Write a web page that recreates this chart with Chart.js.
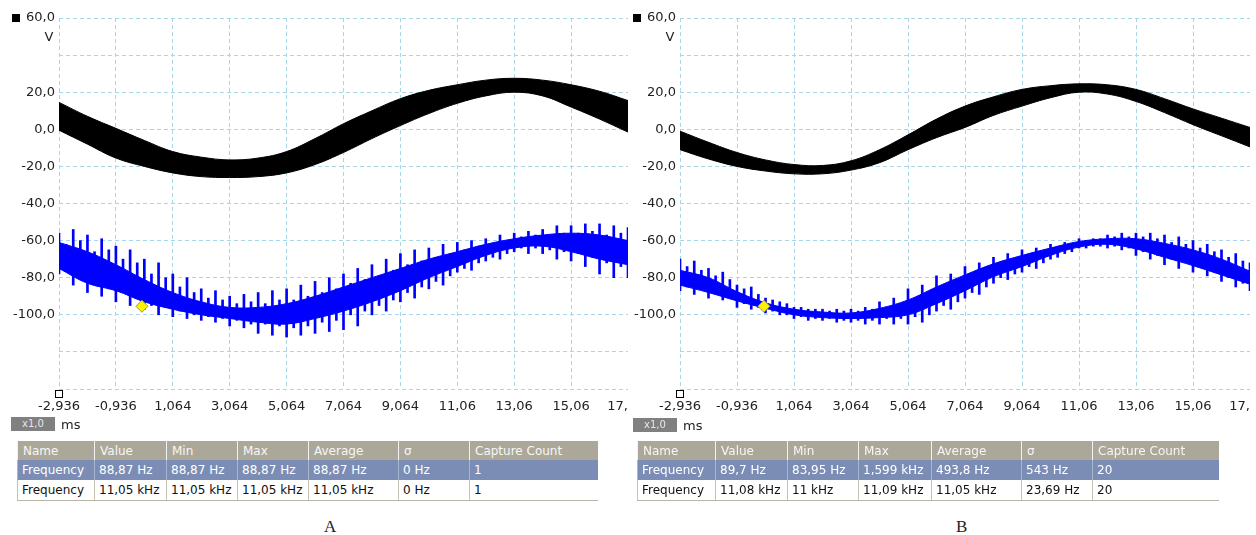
<!DOCTYPE html>
<html>
<head>
<meta charset="utf-8">
<script src="https://cdn.jsdelivr.net/npm/chart.js@4.4.1/dist/chart.umd.min.js"></script>
<style>
	body { margin: 0; background: #fff; }
	#page { position: relative; width: 1256px; height: 535px; overflow: hidden; font-family: "DejaVu Sans", sans-serif; }
	.panel { position: absolute; top: 0; height: 440px; }
	.zoombox { position: absolute; width: 44px; height: 14px; background: #808080; color: #e6e6e6; font-size: 10px; line-height: 14px; text-align: center; }
	.unit { position: absolute; font-size: 13px; color: #222; line-height: 14px; }
	.meas { position: absolute; border-collapse: collapse; table-layout: fixed; font-size: 12px; }
	.meas td { padding: 0 0 0 4px; white-space: nowrap; overflow: hidden; }
	.meas tr.hd td { background: #aca899; color: #f6f6f6; height: 19px; border-left: 1px solid #f2f2f2; padding-left: 5px; }
	.meas tr.sel td { background: #7b8db5; color: #fff; height: 20px; border-left: 1px solid #a9b6d0; }
	.meas tr.row td { background: #fff; color: #111; height: 20px; border-left: 1px solid #c4c0b2; border-bottom: 1px solid #b8b4a6; }
	.caption { position: absolute; top: 517px; font-family: "Liberation Serif", serif; font-size: 17px; color: #222; }
</style>
</head>
<body>
<div id="page">
	<div class="panel" id="wrapA" style="left:0px; width:628px;"><canvas id="scopeA"></canvas></div>
	<div class="panel" id="wrapB" style="left:621px; width:629px;"><canvas id="scopeB"></canvas></div>

	<div class="zoombox" style="left:11px; top:417px;">x1,0</div>
	<div class="unit" style="left:61px; top:418px;">ms</div>
	<div class="zoombox" style="left:633px; top:418px;">x1,0</div>
	<div class="unit" style="left:683px; top:419px;">ms</div>

	<table class="meas" id="tblA" style="left:17px; top:441px;"></table>
	<table class="meas" id="tblB" style="left:637px; top:441px;"></table>

	<div class="caption" style="left:324px;">A</div>
	<div class="caption" style="left:956px;">B</div>
</div>

<script>
// time axis (ms)
const xTickValues = [-2.936, -0.936, 1.064, 3.064, 5.064, 7.064, 9.064, 11.064, 13.064, 15.064, 17.064];
const xTickLabels = ['-2,936', '-0,936', '1,064', '3,064', '5,064', '7,064', '9,064', '11,06', '13,06', '15,06', '17,     '];

// coarse samples, 1 ms apart
const tCoarse = [-2.936, -1.936, -0.936, 0.064, 1.064, 2.064, 3.064, 4.064, 5.064, 6.064, 7.064,
	8.064, 9.064, 10.064, 11.064, 12.064, 13.064, 14.064, 15.064, 16.064, 17.064];

// fine samples for the ripple spikes, 0.25 ms apart
const T0 = -2.936;
const tFine = Array.from({ length: 81 }, (_, i) => Math.round((T0 + i * 0.25) * 1000) / 1000);

// --- panel A (V) ---
const blackTopA = [14.5, 7, 0.5, -6, -12, -15, -16.5, -15.5, -12, -5, 3, 10, 16.5, 21, 24, 26.5, 27.5, 26.5, 24, 20.5, 15.5];
const blackBotA = [-0.5, -8, -15.5, -20, -23.5, -25.5, -26, -25.5, -23.5, -19, -12.5, -5, 2, 8.5, 14, 18, 20, 18, 12, 5.5, -1.5];
const blueCoreA = [-69, -75, -81, -88, -93, -97, -99, -100, -100, -97, -92, -87, -81, -75, -70, -65, -61, -60, -61, -63, -67];
const fuzzHiA = [-61, -66, -73, -81, -88, -93, -96, -96, -94, -90, -85, -80, -75, -70, -66, -62, -59, -57, -56, -57, -60];
const fuzzLoA = [-75, -83, -87, -93, -97, -100, -102, -104, -105, -102, -98, -93, -87, -80, -74, -68, -64, -63, -66, -70, -73];
const spikeHiA = [-56, -62, -54, -60, -57, -66, -59, -65, -63, -70, -65, -72, -70, -78, -72, -80,
	-78, -85, -80, -88, -86, -91, -87, -92, -90, -94, -89, -93, -88, -94, -87, -92,
	-86, -92, -84, -90, -82, -88, -80, -86, -78, -83, -75, -81, -73, -79, -70, -76,
	-67, -73, -65, -71, -64, -69, -62, -67, -61, -65, -60, -63, -59, -62, -57, -60,
	-56, -58, -55, -57, -54, -57, -52, -56, -52, -56, -51, -55, -51, -57, -52, -56, -53];
const spikeLoA = [-78, -76, -84, -80, -88, -83, -90, -86, -93, -88, -95, -90, -97, -95, -100, -96,
	-101, -98, -102, -100, -103, -101, -104, -102, -106, -103, -107, -105, -110, -105, -111, -106,
	-112, -107, -111, -106, -110, -104, -109, -103, -108, -100, -106, -98, -100, -95, -98, -92,
	-93, -88, -91, -85, -86, -82, -84, -79, -77, -75, -76, -72, -71, -69, -70, -67,
	-66, -64, -67, -64, -67, -65, -70, -66, -71, -67, -74, -69, -78, -72, -80, -74, -80];
const markerA = { x: -0.02, y: -95.4 };

// --- panel B (V) ---
const blackTopB = [-1, -7, -12.5, -16.5, -19, -19.5, -17, -11, -3, 5.5, 12.5, 17.5, 21.5, 23.5, 24.5, 24, 21.5, 16.5, 11, 6, 1];
const blackBotB = [-11, -16, -20, -22.5, -24, -24, -22, -18, -11, -4.5, 1, 7.5, 12.5, 17, 20, 19, 15, 9, 2.5, -3.5, -9.5];
const blueCoreB = [-80, -84, -90, -95, -98.5, -100, -100.5, -99, -96, -89, -82.5, -76, -71, -66, -62, -60.5, -61.5, -65, -69, -74, -80];
const fuzzHiB = [-76, -80, -87.5, -93.5, -97, -98.5, -99, -96.5, -92, -85, -78.5, -72.5, -68, -64, -60.5, -59, -59, -61.5, -65, -70, -76.5];
const fuzzLoB = [-84, -88, -92.5, -96.5, -100, -101.5, -102, -101.5, -100, -94, -87, -79.5, -74, -68, -63.5, -62, -64.5, -69, -73.5, -78.5, -83.5];
const spikeHiB = [-70, -74, -71, -76, -75, -79, -77, -81, -84, -86, -85, -89, -91, -92, -93, -94,
	-96, -96, -97, -97, -97, -98, -97, -98, -97, -98, -96, -97, -93, -96, -91, -94,
	-86, -91, -84, -89, -79, -85, -78, -83, -74, -78, -72, -76, -69, -73, -67, -70,
	-65, -68, -64, -66, -62, -64, -61, -62, -59, -60, -59, -59, -57, -58, -56, -58,
	-56, -58, -56, -59, -57, -61, -58, -62, -60, -64, -62, -66, -65, -69, -67, -71, -72];
const spikeLoB = [-87, -85, -89, -86, -91, -88, -92, -90, -96, -94, -97, -96, -99, -98, -100, -100,
	-102, -101, -103, -102, -103, -102, -104, -103, -104, -103, -105, -103, -105, -102, -105, -102,
	-105, -101, -104, -100, -98, -95, -97, -93, -91, -88, -89, -85, -83, -80, -81, -78,
	-77, -74, -75, -72, -70, -69, -67, -66, -64, -64, -63, -63, -64, -63, -65, -64,
	-68, -66, -70, -68, -73, -70, -75, -72, -77, -74, -79, -77, -82, -80, -85, -83, -87];
const markerB = { x: 0.01, y: -95.4 };

// measurement tables
const tableHeader = ['Name', 'Value', 'Min', 'Max', 'Average', '\u03c3', 'Capture Count'];
const rowsA = [
	['Frequency', '88,87 Hz', '88,87 Hz', '88,87 Hz', '88,87 Hz', '0 Hz', '1'],
	['Frequency', '11,05 kHz', '11,05 kHz', '11,05 kHz', '11,05 kHz', '0 Hz', '1'],
];
const rowsB = [
	['Frequency', '89,7 Hz', '83,95 Hz', '1,599 kHz', '493,8 Hz', '543 Hz', '20'],
	['Frequency', '11,08 kHz', '11 kHz', '11,09 kHz', '11,05 kHz', '23,69 Hz', '20'],
];
const colWidthsA = [77, 72, 71, 71, 90, 71, 128];
const colWidthsB = [78, 72, 71, 73, 90, 71, 126];

const gridColor = '#a6d6ea';
const blue = '#0000ff';

Chart.defaults.font.family = '"DejaVu Sans", sans-serif';
Chart.defaults.font.size = 13;
Chart.defaults.color = '#222';

const pts = (xs, ys) => xs.map((x, i) => ({ x: x, y: ys[i] }));

const scopeDecor = {
	id: 'scopeDecor',
	afterDraw(chart) {
		const ctx = chart.ctx;
		const a = chart.chartArea;
		ctx.save();
		ctx.fillStyle = '#000';
		ctx.fillRect(a.left - 47, a.top - 4, 8, 8);
		ctx.strokeStyle = '#000';
		ctx.lineWidth = 1;
		ctx.strokeRect(Math.round(a.left) - 3.5, Math.round(a.bottom) + 1.5, 7, 7);
		ctx.fillStyle = '#222';
		ctx.font = '13px "DejaVu Sans"';
		ctx.textAlign = 'center';
		ctx.textBaseline = 'middle';
		ctx.fillText('V', a.left - 10, a.top + 20);
		ctx.restore();
	}
};

function makeScope(id, blackTop, blackBot, core, fuzzHi, fuzzLo, hi, lo, marker, padRight) {
	const spikes = tFine.map((t, i) => ({ x: t, y: [lo[i], hi[i]] }));

	const data = {
		datasets: [
			{
				type: 'line', data: [marker], order: 0, showLine: false,
				pointStyle: 'rectRot', pointRadius: 6, pointBackgroundColor: '#fff200',
				pointBorderColor: '#9a9a3a', pointBorderWidth: 1
			},
			{
				type: 'line', data: pts(tCoarse, core), order: 1,
				borderColor: blue, borderWidth: 4, pointRadius: 0, tension: 0.4, fill: false
			},
			{
				type: 'bar', data: spikes, order: 2, grouped: false,
				backgroundColor: blue, borderWidth: 0, barThickness: 2
			},
			{
				type: 'line', data: pts(tCoarse, fuzzHi), order: 3,
				borderColor: blue, backgroundColor: blue, borderWidth: 1,
				pointRadius: 0, tension: 0.4, fill: '+1'
			},
			{
				type: 'line', data: pts(tCoarse, fuzzLo), order: 4,
				borderColor: blue, borderWidth: 1, pointRadius: 0, tension: 0.4, fill: false
			},
			{
				type: 'line', data: pts(tCoarse, blackTop), order: 5,
				borderColor: '#000', backgroundColor: '#000', borderWidth: 1,
				pointRadius: 0, tension: 0.4, fill: '+1'
			},
			{
				type: 'line', data: pts(tCoarse, blackBot), order: 6,
				borderColor: '#000', borderWidth: 1, pointRadius: 0, tension: 0.4, fill: false
			}
		]
	};

	const config = {
		type: 'line',
		data: data,
		options: {
			responsive: true,
			maintainAspectRatio: false,
			animation: false,
			layout: { autoPadding: false, padding: { top: 18, right: padRight, left: 0, bottom: 0 } },
			plugins: {
				legend: { display: false },
				tooltip: { enabled: false }
			},
			scales: {
				x: {
					type: 'linear',
					min: -2.936,
					max: 17.064,
					offset: false,
					afterBuildTicks: (s) => { s.ticks = xTickValues.map(v => ({ value: v })); },
					afterFit: (s) => { s.height = 51; s.paddingLeft = 0; s.paddingRight = 0; },
					grid: { color: gridColor, lineWidth: 1, drawTicks: false, offset: false },
					border: { display: false, dash: [4, 3] },
					ticks: {
						autoSkip: false, maxRotation: 0, padding: 10, color: '#222',
						callback: (v, i) => xTickLabels[i]
					}
				},
				y: {
					min: -140,
					max: 60,
					afterFit: (s) => { s.width = 59; s.paddingTop = 0; s.paddingBottom = 0; },
					grid: { color: gridColor, lineWidth: 1, drawTicks: false },
					border: { display: false, dash: [4, 3] },
					ticks: {
						stepSize: 20, padding: 4, color: '#222',
						callback: (v) => (v === 60 || (v <= 20 && v >= -100)) ? v.toFixed(1).replace('.', ',') : ''
					}
				}
			}
		},
		plugins: [scopeDecor]
	};

	var ctx = document.getElementById(id);
	if (ctx != null) {
		const chart = new Chart(ctx, config);
		return chart;
	}
}

function fillTable(id, widths, rows) {
	const tbl = document.getElementById(id);
	const cg = document.createElement('colgroup');
	widths.forEach(w => {
		const c = document.createElement('col');
		c.style.width = w + 'px';
		cg.appendChild(c);
	});
	tbl.appendChild(cg);
	tbl.style.width = widths.reduce((a, b) => a + b, 0) + 'px';
	const addRow = (cells, cls) => {
		const tr = document.createElement('tr');
		tr.className = cls;
		cells.forEach(txt => {
			const td = document.createElement('td');
			td.textContent = txt;
			tr.appendChild(td);
		});
		tbl.appendChild(tr);
	};
	addRow(tableHeader, 'hd');
	addRow(rows[0], 'sel');
	addRow(rows[1], 'row');
}

document.getElementById('wrapA').style.height = '440px';
document.getElementById('wrapB').style.height = '440px';

makeScope('scopeA', blackTopA, blackBotA, blueCoreA, fuzzHiA, fuzzLoA, spikeHiA, spikeLoA, markerA, 0);
makeScope('scopeB', blackTopB, blackBotB, blueCoreB, fuzzHiB, fuzzLoB, spikeHiB, spikeLoB, markerB, 0);

fillTable('tblA', colWidthsA, rowsA);
fillTable('tblB', colWidthsB, rowsB);
</script>
</body>
</html>
